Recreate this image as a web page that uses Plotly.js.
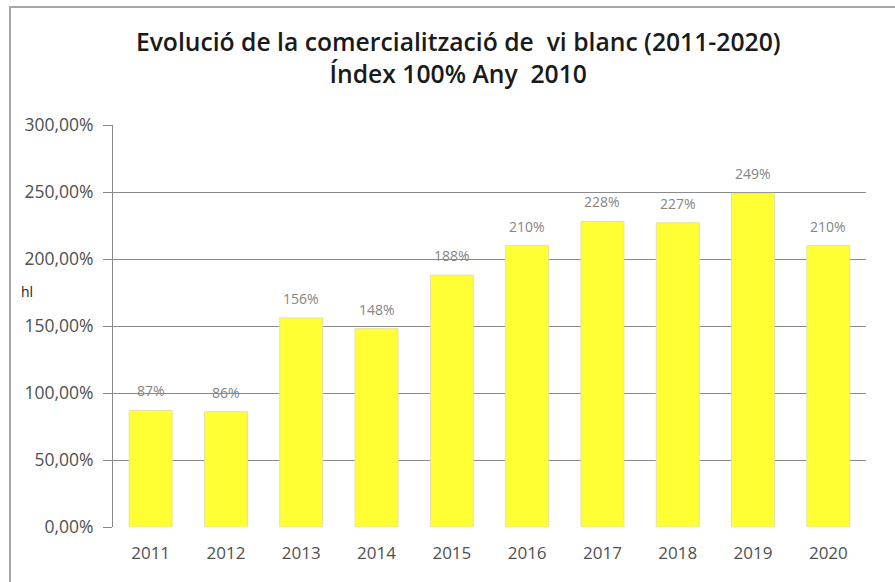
<!DOCTYPE html>
<html>
<head>
<meta charset="utf-8">
<script src="https://cdn.plot.ly/plotly-3.0.1.min.js"></script>
<style>
  html, body { margin: 0; padding: 0; background: #fff; }
  #wrap { position: relative; width: 895px; height: 582px; overflow: hidden; }
  #chart { width: 895px; height: 582px; }
  #frame { position: absolute; left: 9px; top: 6px; right: -5px; bottom: -5px;
           border-top: 2px solid #a6a6a6; border-left: 2px solid #a6a6a6; pointer-events: none; }
</style>
</head>
<body>
<div id="wrap">
  <div id="chart"></div>
  <div id="frame"></div>
</div>
<script>
const years = ['2011','2012','2013','2014','2015','2016','2017','2018','2019','2020'];
const values = [87, 86, 156, 148, 188, 210, 228, 227, 249, 210];
const valueLabels = ['87%','86%','156%','148%','188%','210%','228%','227%','249%','210%'];
const yTickVals = [0, 50, 100, 150, 200, 250, 300];
const yTickText = ['0,00%','50,00%','100,00%','150,00%','200,00%','250,00%','300,00%'];

const trace = {
  type: 'bar',
  x: years,
  y: values,
  width: 0.57,
  marker: { color: '#ffff33', line: { color: '#e2e2a0', width: 1 } },
  hoverinfo: 'skip'
};

// annotations on a category axis are placed by category index
const annotations = years.map((yr, i) => ({
  x: i, y: values[i], xref: 'x', yref: 'y',
  text: valueLabels[i], showarrow: false,
  yanchor: 'bottom', yshift: 8,
  font: { family: 'Open Sans, sans-serif', size: 14, color: '#858585' }
}));
annotations.push({
  xref: 'paper', yref: 'paper', x: -0.125, y: 0.585, xanchor: 'left', yanchor: 'middle',
  text: 'hl', showarrow: false,
  font: { family: 'Open Sans, sans-serif', size: 14, color: '#222' }
});

const layout = {
  width: 895, height: 582,
  margin: { l: 113, r: 29, t: 125, b: 55 },
  paper_bgcolor: '#ffffff', plot_bgcolor: '#ffffff',
  showlegend: false,
  title: {
    text: 'Evolució de la comercialització de  vi blanc (2011-2020)<br>Índex 100% Any  2010',
    x: 0.512, xanchor: 'center', xref: 'container',
    y: 0.912, yanchor: 'middle', yref: 'container',
    font: { family: 'Open Sans, sans-serif', size: 24.7, color: '#1a1a1a', weight: 600 }
  },
  xaxis: {
    type: 'category',
    categoryorder: 'array', categoryarray: years,
    range: [-0.5, years.length - 0.5],
    showgrid: false, zeroline: false, showline: false,
    ticks: '', ticklabelstandoff: 14,
    tickfont: { family: 'Open Sans, sans-serif', size: 17, color: '#505050' }
  },
  yaxis: {
    range: [0, 300],
    tickvals: yTickVals, ticktext: yTickText,
    showgrid: true, gridcolor: '#8a8a8a', gridwidth: 1,
    zeroline: false,
    showline: true, linecolor: '#8a8a8a', linewidth: 1,
    ticks: 'outside', ticklen: 9, tickcolor: '#8a8a8a',
    ticklabelstandoff: 6,
    tickfont: { family: 'Open Sans, sans-serif', size: 17.5, color: '#505050' }
  },
  annotations: annotations
};

Plotly.newPlot('chart', [trace], layout, { displayModeBar: false, staticPlot: true });
</script>
</body>
</html>
